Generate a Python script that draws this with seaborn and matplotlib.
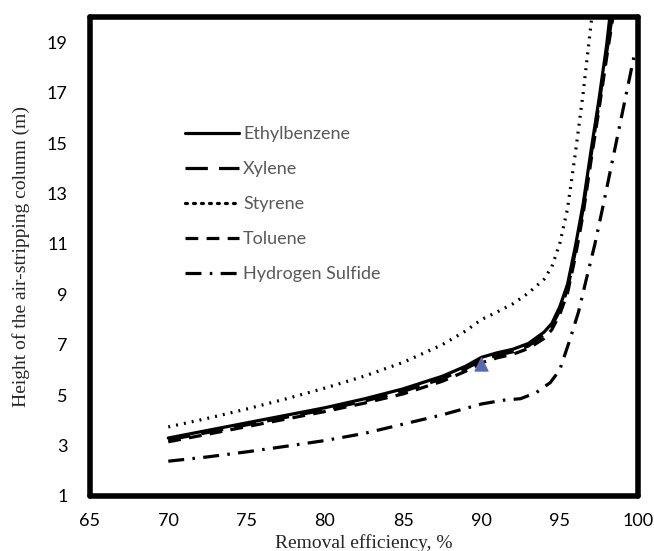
import matplotlib
matplotlib.use("Agg")
import matplotlib.pyplot as plt
import seaborn as sns
import pandas as pd

# ---- data ----
eth_x = [70, 72.5, 75, 77.5, 80, 82.5, 85, 87.5, 89, 90, 91, 92, 93, 94, 94.5, 95, 95.5, 96, 96.5, 97, 97.5, 98, 98.2]
eth_y = [3.30, 3.60, 3.90, 4.20, 4.50, 4.85, 5.25, 5.75, 6.15, 6.50, 6.68, 6.82, 7.05, 7.50, 7.85, 8.50, 9.40, 10.9, 12.6, 14.7, 16.7, 18.9, 20.0]

xyl_x = [70, 72.5, 75, 77.5, 80, 82.5, 85, 87.5, 89, 90, 91, 92, 93, 94, 94.5, 95, 95.5, 96, 96.5, 97, 97.5, 98, 98.35]
xyl_y = [3.22, 3.52, 3.82, 4.12, 4.42, 4.76, 5.15, 5.65, 6.05, 6.38, 6.58, 6.72, 6.95, 7.40, 7.75, 8.35, 9.20, 10.7, 12.4, 14.5, 16.5, 18.6, 20.0]

sty_x = [70, 72.5, 75, 77.5, 80, 82.5, 85, 87.5, 89, 90, 91, 92, 93, 94, 94.5, 95, 95.5, 96, 96.5, 97.05]
sty_y = [3.74, 4.08, 4.45, 4.85, 5.28, 5.75, 6.30, 7.00, 7.55, 8.00, 8.30, 8.62, 9.05, 9.60, 10.10, 11.0, 12.4, 14.6, 17.0, 20.0]

tol_x = [70, 72.5, 75, 77.5, 80, 82.5, 85, 87.5, 89, 90, 91, 92, 93, 94, 94.5, 95, 95.5, 96, 96.5, 97, 97.5, 98, 98.4]
tol_y = [3.15, 3.45, 3.75, 4.05, 4.35, 4.68, 5.05, 5.55, 5.95, 6.28, 6.48, 6.62, 6.85, 7.25, 7.60, 8.20, 9.05, 10.5, 12.2, 14.3, 16.3, 18.4, 20.0]

h2s_x = [70, 72.5, 75, 77.5, 80, 82.5, 85, 87.5, 90, 91.4, 92.5, 93.5, 94.4, 95, 95.65, 96.2, 96.7, 97.25, 97.8, 98.5, 99.2, 99.8]
h2s_y = [2.38, 2.55, 2.75, 2.97, 3.20, 3.48, 3.85, 4.22, 4.65, 4.80, 4.86, 5.10, 5.50, 6.00, 7.20, 8.30, 9.60, 11.0, 12.6, 14.7, 16.8, 18.6]

series_names = ["Ethylbenzene", "Xylene", "Styrene", "Toluene", "Hydrogen Sulfide"]

marker_x = [90]
marker_y = [6.25]

x_ticks = [65, 70, 75, 80, 85, 90, 95, 100]
y_ticks = [1, 3, 5, 7, 9, 11, 13, 15, 17, 19]

# ---- build long-form table ----
frames = []
for name, xs, ys in zip(series_names,
                        [eth_x, xyl_x, sty_x, tol_x, h2s_x],
                        [eth_y, xyl_y, sty_y, tol_y, h2s_y]):
    frames.append(pd.DataFrame({"x": xs, "y": ys, "series": name}))
df = pd.concat(frames, ignore_index=True)

sns.set_style("white")

fig = plt.figure(figsize=(6.54, 5.51), dpi=100)
ax = fig.add_axes([90/654, 1 - 496/551, (638-90)/654, (496-17)/551])

dashes = {
    "Ethylbenzene": "",
    "Xylene": (7, 3.5),
    "Styrene": (0.6, 1.9),
    "Toluene": (4, 2.6),
    "Hydrogen Sulfide": (5, 2.6, 0.8, 2.6),
}
palette = {n: "black" for n in series_names}

sns.lineplot(data=df, x="x", y="y", hue="series", style="series",
             hue_order=series_names, style_order=series_names,
             palette=palette, dashes=dashes, linewidth=2.3,
             sort=False, estimator=None, ax=ax, legend=True)

for line in ax.get_lines():
    line.set_dash_capstyle("butt")
for line in ax.get_lines():
    if line.get_label() == "Styrene":
        line.set_linewidth(2.2)
        line.set_dash_capstyle("round")

sns.scatterplot(x=marker_x, y=marker_y, marker="^", s=90,
                color="#4a6fb5", edgecolor="#7b5ea7", linewidth=0.8,
                ax=ax, legend=False, zorder=5)

ax.set_xlim(65, 100)
ax.set_ylim(1, 20)
ax.set_xticks(x_ticks)
ax.set_yticks(y_ticks)
ax.tick_params(axis="both", length=0, labelsize=13)
ax.tick_params(axis="y", pad=16)
ax.tick_params(axis="x", pad=12)
for lab in ax.get_xticklabels() + ax.get_yticklabels():
    lab.set_fontfamily("Lato")
    lab.set_color("black")

for sp in ax.spines.values():
    sp.set_visible(True)
    sp.set_color("black")
    sp.set_linewidth(4.0)
    sp.set_capstyle("round")

ax.set_xlabel("Removal efficiency, %", family="Liberation Serif", fontsize=14, labelpad=4)
ax.set_ylabel("Height of the air-stripping column (m)", family="Liberation Serif", fontsize=14, labelpad=12)
ax.grid(False)

handles, labels = ax.get_legend_handles_labels()
order = [labels.index(n) for n in series_names]
leg = ax.legend([handles[i] for i in order], [labels[i] for i in order],
                loc="upper left", bbox_to_anchor=(176/654, 1 - 117/551),
                bbox_transform=fig.transFigure, frameon=False,
                handlelength=3.0, handletextpad=0.22, labelspacing=1.05,
                borderpad=0, prop={"family": "Lato", "size": 13})
for t in leg.get_texts():
    t.set_color("#595959")
for h in leg.get_lines():
    h.set_linewidth(2.3)

fig.savefig("out.png", dpi=100)
